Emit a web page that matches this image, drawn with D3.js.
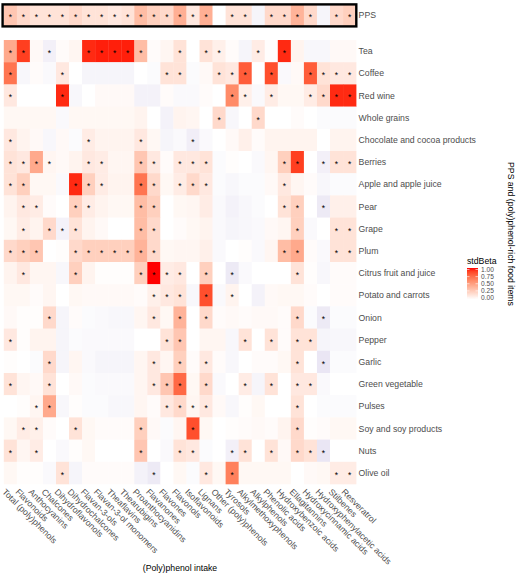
<!DOCTYPE html>
<html><head><meta charset="utf-8">
<script src="https://cdn.jsdelivr.net/npm/d3@7"></script>
<style>body{margin:0;background:#fff} text{font-family:"Liberation Sans",Arial,Helvetica,sans-serif}</style>
</head><body><svg id="c" width="520" height="578"></svg>
<script>
const intakeClasses = ["Total (poly)phenols","Flavonoids","Anthocyanins","Chalcones","Dihydroflavonols","Dihydrochalcones","Flavan-3-ols","Flavan-3-ol monomers","Theaflavins","Thearubigins","Proanthocyanidins","Flavanones","Flavones","Flavonols","Isoflavonoids","Lignans","Other (poly)phenols","Tyrosols","Alkylmethoxyphenols","Alkylphenols","Phenolic acids","Hydroxybenzoic acids","Ellagitannins","Hydroxycinnamic acids","Hydroxyphenylacetic acids","Stilbenes","Resveratrol"];
const ppsLabel = "PPS";
const foodItems = ["Tea","Coffee","Red wine","Whole grains","Chocolate and cocoa products","Berries","Apple and apple juice","Pear","Grape","Plum","Citrus fruit and juice","Potato and carrots","Onion","Pepper","Garlic","Green vegetable","Pulses","Soy and soy products","Nuts","Olive oil"];

const ppsValues = [0.3,0.2,0.15,0.15,0.15,0.2,0.15,0.15,0.12,0.15,0.35,0.25,0.2,0.42,0.12,0.42,0,0.15,0.15,-0.05,0.2,0.2,0.4,0.2,-0.05,0.2,0.25];
const ppsStars = [0,1,2,3,4,5,6,7,8,9,10,11,12,13,14,15,17,18,20,21,22,23,25,26];

const foodValues = [
 [0.45,0.9,0.03,-0.07,0.02,0.05,0.95,0.97,0.97,0.97,0.35,0.02,0.05,0.15,0,0.15,0.08,0.02,-0.05,0.1,0.01,0.95,0.06,-0.04,-0.04,0.03,0.03],
 [0.7,-0.04,0.02,-0.03,0.12,0,-0.05,-0.05,-0.05,-0.05,0,-0.02,0.15,0.15,-0.02,0.03,0.15,0.12,0.8,0,0.85,-0.03,0.03,0.8,0.15,0.12,0.12],
 [0.12,0,0,0,0.95,-0.04,0,0.03,0.03,0.03,-0.06,-0.06,0.02,-0.03,-0.03,0.02,0,0.6,0.08,-0.03,0.1,0.04,0.04,0.1,0.2,0.95,0.95],
 [0.04,0.04,0.04,0.04,-0.03,0.04,0.04,0.04,0.04,0.04,0.06,0,-0.06,0.06,0.05,0,0.2,-0.04,0,0.2,0,0,0.02,0,-0.02,-0.02,-0.02],
 [0.12,0.06,0.03,-0.04,0.03,-0.02,0.1,0.06,0.06,0.06,0.12,0.04,-0.05,-0.03,-0.08,-0.03,0,0.03,0.08,0.02,0.06,0.06,0.06,0.06,0,0.06,0.06],
 [0.15,0.12,0.45,0.05,0.03,0.06,0.12,0.1,0.05,0.05,0.3,0.12,0.02,0.12,0.12,0.15,-0.02,0.01,0,-0.03,0.05,0.25,0.9,0,-0.07,0.15,0.15],
 [0.15,0.25,0.04,0.04,-0.03,0.95,0.25,0.1,0.06,0.06,0.7,0.2,0.04,0.1,0.2,0.12,-0.02,-0.04,-0.02,-0.02,0.03,0.12,0.05,0.02,-0.04,-0.02,-0.02],
 [0.06,0.12,0.1,0.02,0,0.25,0.1,0.06,0.04,0.04,0.35,0.25,0,0.04,0.05,0.1,-0.03,-0.06,-0.04,-0.02,0,0.15,0.25,0,-0.1,0.08,0.08],
 [0.04,0.1,0.06,0.2,-0.06,0.15,0.06,0.03,0,0,0.35,0.2,0,0.02,0.04,0.06,-0.03,-0.05,-0.04,-0.03,0.03,0.05,0.25,-0.03,0,0.15,0.15],
 [0.2,0.25,0.3,0,0.01,0.2,0.25,0.25,0.25,0.25,0.4,0.2,0.04,0.05,0.05,0.08,-0.03,0,0.01,-0.03,0.05,0.35,0.45,0.02,-0.03,0.15,0.15],
 [0.06,0.12,0.05,0.05,-0.04,0.25,0.06,0.01,0.01,0.01,0.25,1.0,0.1,0.12,0,0.25,0,-0.1,-0.03,0,0,0,0.15,0.01,-0.04,0.02,0.02],
 [0.04,0.04,0.02,0.05,0,0.04,0.03,0.03,0.03,0.03,0.02,0.08,0.12,0.15,-0.04,0.85,-0.03,0.06,0,-0.06,0.03,0.04,0.04,0.02,0,0.02,0.02],
 [0.03,0.01,0.01,0.2,-0.05,0.02,-0.02,-0.03,-0.04,-0.04,0.05,0.12,0.04,0.4,0,0.2,0.02,0.03,0.02,0.03,0.03,0.02,0.2,-0.02,-0.1,-0.02,-0.02],
 [0.12,0.01,0.06,0.06,-0.05,-0.02,-0.03,-0.03,-0.03,-0.03,0,0,0.15,0.3,0,0.05,0.05,-0.04,0.15,0,0.15,0.02,0.15,0.15,-0.05,-0.04,-0.04],
 [0.01,0,-0.02,0.2,-0.05,0.05,-0.03,-0.05,-0.05,-0.05,0.05,0.12,0.05,0.25,0.02,0.12,0.02,-0.04,0,0.02,0.02,0.04,0.15,0,-0.12,-0.02,-0.02],
 [0.15,0.05,0.03,0.15,0,0.03,-0.02,-0.03,-0.03,-0.03,0.05,0.12,0.3,0.75,0.04,0.2,-0.03,0,0.1,-0.05,0.15,0,0.12,0.12,-0.03,0,0],
 [0,0.01,0.05,0.45,-0.04,0.01,-0.02,-0.02,-0.04,-0.04,0.05,0.02,0.12,0.2,0.05,0.12,0.03,-0.04,0.01,0.04,0,0,0.15,0,-0.02,-0.02,-0.02],
 [0.04,0.1,0.08,0.02,0,0.15,0.04,0.02,0.02,0.02,0.25,0.03,-0.02,0.05,0.85,0.04,0,0.01,0.02,0.03,0.02,0.06,0.2,0.01,0.02,0.04,0.04],
 [0.15,0.05,0.1,0,-0.03,0.01,0.04,0,0,0,0.3,0,-0.03,0.15,0.12,-0.02,0,-0.07,0.15,0,0.15,0.03,0.2,0.15,-0.12,0,0],
 [0.04,0.01,0.01,-0.03,0.15,-0.05,0.02,0.02,0.02,0.02,-0.06,-0.1,0,0.04,-0.02,0.12,0.04,0.65,0.04,0.04,0.04,0.04,0,0.03,0.04,0.1,0.1]
];
const foodStars = [
 [0,1,3,6,7,8,9,10,13,15,16,19,21],
 [0,4,12,13,16,17,18,20,23,24,25,26],
 [0,4,17,18,20,23,24,25,26],
 [16,19],
 [0,6,10,14],
 [0,1,2,3,6,7,10,11,13,14,15,21,22,24,25,26],
 [0,1,5,6,7,10,11,13,14,15,21],
 [1,2,5,6,10,11,21,22,24],
 [1,3,4,5,10,11,22,25,26],
 [0,1,2,5,6,7,8,9,10,11,21,22,25,26],
 [1,5,10,11,12,13,15,17,22],
 [11,12,13,15,17],
 [3,11,13,15,22,24],
 [0,12,13,18,20,22,23],
 [3,11,13,15,22,24],
 [0,3,11,12,13,15,18,20,22,23],
 [2,3,12,13,14,15,22],
 [1,2,5,10,14,22],
 [0,2,10,13,14,17,18,20,22,23,24],
 [4,11,15,17,25,26]
];
const legendTicks = [0, 0.25, 0.5, 0.75, 1];
const legendTitle = "stdBeta";
const xTitle = "(Poly)phenol intake";
const yTitle = "PPS and (poly)phenol-rich food items";

const svg = d3.select("#c");
const color = d3.scaleLinear().domain([-1,0,1]).range(["#4b3f9e","#ffffff","#ff0000"]).interpolate(d3.interpolateLab).clamp(true);

const x = d3.scaleBand().domain(intakeClasses).range([3.8, 356.1]);
const y = d3.scaleBand().domain(foodItems).range([40, 484]);
const yP = d3.scaleBand().domain([ppsLabel]).range([4.4, 26.4]);

function drawRow(g, vals, stars, yy, rowName){
  const cells = intakeClasses.map((c,i)=>({c, v: vals[i], s: stars.includes(i)}));
  g.selectAll(null).data(cells).enter().append("rect")
    .attr("x", d=>x(d.c)).attr("y", yy(rowName))
    .attr("width", x.bandwidth()+0.3).attr("height", yy.bandwidth()+0.3)
    .attr("fill", d=>color(d.v));
  g.selectAll(null).data(cells.filter(d=>d.s)).enter().append("text")
    .attr("x", d=>x(d.c)+x.bandwidth()/2)
    .attr("y", yy(rowName)+yy.bandwidth()/2 + 4.9)
    .attr("text-anchor","middle").attr("font-size", 8.5).attr("fill","#000")
    .text("*");
}

const gP = svg.append("g");
drawRow(gP, ppsValues, ppsStars, yP, ppsLabel);
svg.append("rect").attr("x", 2.6).attr("y", yP(ppsLabel)).attr("width", 356.3-2.6).attr("height", yP.bandwidth())
  .attr("fill","none").attr("stroke","#000").attr("stroke-width",2.4);

const gF = svg.append("g");
foodItems.forEach((f,i)=> drawRow(gF, foodValues[i], foodStars[i], y, f));

// row labels
const labCol = "#4d4d4d", fs = 8.7;
svg.append("text").attr("x", 358.6).attr("y", yP(ppsLabel)+yP.bandwidth()/2).attr("dy","0.35em")
  .attr("font-size", fs).attr("fill", labCol).text(ppsLabel);
svg.selectAll(null).data(foodItems).enter().append("text")
  .attr("x", 358.6).attr("y", d=>y(d)+y.bandwidth()/2).attr("dy","0.35em")
  .attr("font-size", fs).attr("fill", labCol).text(d=>d);

// column labels
svg.selectAll(null).data(intakeClasses).enter().append("text")
  .attr("transform", d=>`translate(${x(d)+x.bandwidth()/2-6.3},490.3) rotate(45)`)
  .attr("dy","0.35em").attr("font-size", fs).attr("fill", labCol).text(d=>d);

// titles
svg.append("text").attr("x", 180).attr("y", 571).attr("text-anchor","middle")
  .attr("font-size", fs).attr("fill","#000").text(xTitle);
svg.append("text").attr("transform","translate(508,234) rotate(90)").attr("text-anchor","middle")
  .attr("font-size", fs).attr("fill","#000").text(yTitle);

// legend
const lg = svg.append("g");
lg.append("text").attr("x", 467).attr("y", 264).attr("font-size", fs).attr("fill","#000").text(legendTitle);
const ly = d3.scaleLinear().domain([0,1]).range([298, 269.5]);
const defs = svg.append("defs");
const grad = defs.append("linearGradient").attr("id","lgGrad").attr("x1",0).attr("y1",1).attr("x2",0).attr("y2",0);
d3.range(0,1.001,0.1).forEach(t=> grad.append("stop").attr("offset", t).attr("stop-color", color(t)));
lg.append("rect").attr("x",467).attr("y", ly(1)-1.5).attr("width",11).attr("height", ly(0)-ly(1)+3).attr("fill","url(#lgGrad)");
lg.selectAll(null).data(legendTicks).enter().append("line")
  .attr("x1",467).attr("x2",469.5).attr("y1",d=>ly(d)).attr("y2",d=>ly(d)).attr("stroke","#fff").attr("stroke-width",0.6);
lg.selectAll(null).data(legendTicks).enter().append("line")
  .attr("x1",475.5).attr("x2",478).attr("y1",d=>ly(d)).attr("y2",d=>ly(d)).attr("stroke","#fff").attr("stroke-width",0.6);
lg.selectAll(null).data(legendTicks).enter().append("text")
  .attr("x", 481).attr("y", d=>ly(d)).attr("dy","0.35em").attr("font-size", 6.6).attr("fill", labCol)
  .text(d=>d3.format(".2f")(d));
</script></body></html>
